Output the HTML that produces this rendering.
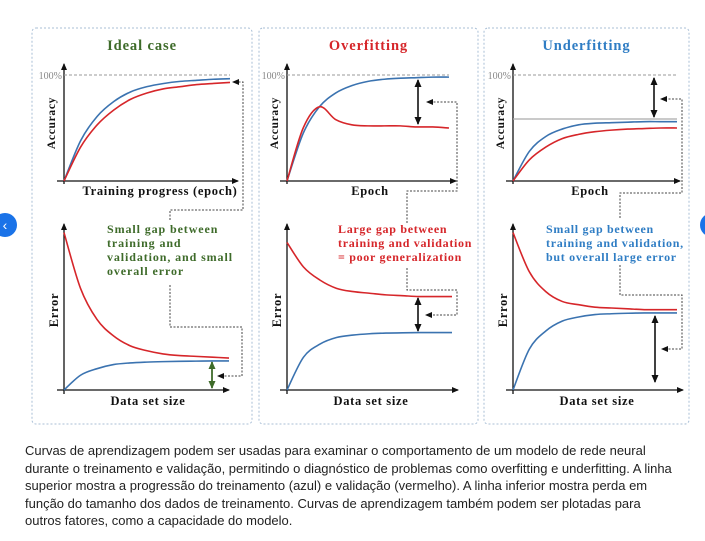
<!DOCTYPE html>
<html><head><meta charset="utf-8"><style>
body{margin:0;background:#fff;width:705px;height:541px;overflow:hidden;position:relative;font-family:"Liberation Sans",sans-serif}
#cap{position:absolute;left:25px;top:442px;width:650px;font-size:13px;line-height:17.6px;color:#222}
.nav{position:absolute;width:24px;height:24px;border-radius:12px;background:#1a73e8;color:#fff;font-size:14px;line-height:24px;text-align:center;top:213px}
</style></head><body>
<svg id="fig" width="705" height="435" style="position:absolute;left:0;top:0" font-family="Liberation Serif, serif">
<defs>
<marker id="ah" markerUnits="userSpaceOnUse" markerWidth="7" markerHeight="7" refX="6" refY="3.5" orient="auto"><path d="M0,0.5L7,3.5L0,6.5z" fill="#111"/></marker>
<marker id="ahs" markerUnits="userSpaceOnUse" markerWidth="8" markerHeight="8" refX="7" refY="4" orient="auto-start-reverse"><path d="M0,0.5L8,4L0,7.5z" fill="#111"/></marker>
<marker id="ahg" markerUnits="userSpaceOnUse" markerWidth="8" markerHeight="8" refX="7" refY="4" orient="auto-start-reverse"><path d="M0,0.5L8,4L0,7.5z" fill="#3e6b2a"/></marker>
</defs>
<g id="static"></g>
<g id="curves"></g>
</svg>
<div class="nav" style="left:-7px">‹</div>
<div class="nav" style="left:700px">›</div>
<div id="cap">Curvas de aprendizagem podem ser usadas para examinar o comportamento de um modelo de rede neural durante o treinamento e validação, permitindo o diagnóstico de problemas como overfitting e underfitting. A linha superior mostra a progressão do treinamento (azul) e validação (vermelho). A linha inferior mostra perda em função do tamanho dos dados de treinamento. Curvas de aprendizagem também podem ser plotadas para outros fatores, como a capacidade do modelo.</div>
<script>
// x positions are fractions of the plot width (0..1)
const xs = [0,0.1,0.2,0.3,0.4,0.5,0.6,0.7,0.8,0.9,1];
// accuracy (fraction of 100%)
const idealTrainAcc = [0,0.38,0.61,0.75,0.84,0.89,0.92,0.94,0.95,0.96,0.965];
const idealValAcc   = [0,0.32,0.53,0.67,0.77,0.83,0.87,0.89,0.91,0.92,0.93];
const overTrainAcc  = [0,0.45,0.70,0.83,0.90,0.94,0.96,0.97,0.975,0.98,0.98];
const overValAcc    = [0,0.50,0.70,0.58,0.53,0.52,0.52,0.52,0.51,0.51,0.50];
const underTrainAcc = [0,0.28,0.42,0.49,0.53,0.545,0.55,0.555,0.56,0.56,0.56];
const underValAcc   = [0,0.20,0.32,0.40,0.44,0.465,0.48,0.49,0.495,0.50,0.50];
// error vs data set size (fraction of axis height)
const idealValErr   = [0.96,0.62,0.43,0.33,0.27,0.24,0.22,0.21,0.205,0.20,0.195];
const idealTrainErr = [0,0.09,0.13,0.155,0.165,0.17,0.173,0.175,0.176,0.177,0.177];
const overValErr    = [0.90,0.75,0.67,0.62,0.60,0.59,0.58,0.575,0.57,0.57,0.57];
const overTrainErr  = [0,0.20,0.28,0.32,0.335,0.343,0.347,0.349,0.35,0.35,0.35];
const underValErr   = [0.96,0.72,0.60,0.54,0.52,0.505,0.50,0.495,0.49,0.49,0.49];
const underTrainErr = [0,0.25,0.36,0.42,0.445,0.46,0.465,0.468,0.47,0.47,0.47];

const NS='http://www.w3.org/2000/svg';
const st=document.getElementById('static'), cv=document.getElementById('curves');
function mk(tag,attrs,parent,text){const e=document.createElementNS(NS,tag);for(const k in attrs)e.setAttribute(k,attrs[k]);if(text!==undefined)e.textContent=text;(parent||st).appendChild(e);return e;}
function line(x1,y1,x2,y2,extra,name){const e=mk('line',Object.assign({x1,y1,x2,y2,stroke:'#111','stroke-width':1.3},extra||{}));

return e;}
function dpath(d,name){const e=mk('path',{d,fill:'none',stroke:'#444','stroke-width':1,'stroke-dasharray':'2,1.5','marker-end':'url(#ah)'});

}
function text(x,y,s,attrs,name){const e=mk('text',Object.assign({x,y,'font-size':12.5,'font-weight':'bold',fill:'#111','letter-spacing':0.7},attrs||{}),st,s);

return e;}
function curve(vals,x0,x1,y0,h,color,name){
  const pts=xs.map((f,i)=>[x0+f*(x1-x0),y0-vals[i]*h]);
  let d='M'+pts[0][0]+','+pts[0][1];
  for(let i=0;i<pts.length-1;i++){const p0=pts[Math.max(0,i-1)],p1=pts[i],p2=pts[i+1],p3=pts[Math.min(pts.length-1,i+2)];
    d+=' C'+(p1[0]+(p2[0]-p0[0])/6)+','+(p1[1]+(p2[1]-p0[1])/6)+' '+(p2[0]-(p3[0]-p1[0])/6)+','+(p2[1]-(p3[1]-p1[1])/6)+' '+p2[0]+','+p2[1];}
  const e=mk('path',{d,fill:'none',stroke:color,'stroke-width':1.6},cv);
  
  
}
const BLUE='#3b73b0', RED='#d6262a';
const panels=[
 {key:'ideal',bx:32,bw:220,title:'Ideal case',tc:'#3e6b2a',ax:64,xe:238,ce:230,top:[idealTrainAcc,idealValAcc],bot:[idealValErr,idealTrainErr],bxe:229,bce:229,xl:'Training progress (epoch)',xlx:160},
 {key:'overfitting',bx:259,bw:219,title:'Overfitting',tc:'#d6262a',ax:287,xe:456,ce:449,top:[overTrainAcc,overValAcc],bot:[overValErr,overTrainErr],bxe:458,bce:452,xl:'Epoch',xlx:370},
 {key:'underfitting',bx:484,bw:205,title:'Underfitting',tc:'#2f7dc4',ax:513,xe:680,ce:677,top:[underTrainAcc,underValAcc],bot:[underValErr,underTrainErr],bxe:683,bce:677,xl:'Epoch',xlx:590}
];
panels.forEach(p=>{
  const b=mk('rect',{x:p.bx,y:28,width:p.bw,height:396,rx:4,fill:'none',stroke:'#a9bfd6','stroke-width':1,'stroke-dasharray':'2,2'});
  
  
  text(p.bx+p.bw/2,50,p.title,{'text-anchor':'middle','font-size':14.5,fill:p.tc,'letter-spacing':0.9},p.key+'-title');
  // top chart
  line(p.ax,184,p.ax,64,{'marker-end':'url(#ah)'},p.key+'-acc-y-axis');
  line(p.ax-7,181,p.xe,181,{'marker-end':'url(#ah)'},p.key+'-acc-x-axis');
  line(p.ax,75,p.ce,75,{stroke:'#999','stroke-width':1,'stroke-dasharray':'3,2'},p.key+'-100-line');
  text(p.ax-2,79,'100%',{'text-anchor':'end','font-size':10,'font-weight':'normal',fill:'#888','letter-spacing':0},p.key+'-100-label');
  text(p.ax-9,123,'Accuracy',{'text-anchor':'middle','font-size':11.5,transform:'rotate(-90 '+(p.ax-9)+' 123)'},p.key+'-acc-y-title');
  text(p.xlx,195,p.xl,{'text-anchor':'middle'},p.key+'-acc-x-title');
  if(p.key==='underfitting') line(p.ax,119,p.ce,119,{stroke:'#aaa','stroke-width':1.2},'underfitting-ceiling-line');
  curve(p.top[0],p.ax,p.ce,181,106,BLUE,p.key+'-train-accuracy');
  curve(p.top[1],p.ax,p.ce,181,106,RED,p.key+'-val-accuracy');
  // bottom chart
  line(p.ax,394,p.ax,224,{'marker-end':'url(#ah)'},p.key+'-err-y-axis');
  line(p.ax-7,390,p.bxe,390,{'marker-end':'url(#ah)'},p.key+'-err-x-axis');
  text(p.ax-6,310,'Error',{'text-anchor':'middle','font-size':12.5,transform:'rotate(-90 '+(p.ax-6)+' 310)'},p.key+'-err-y-title');
  text(p.ax+84,405,'Data set size',{'text-anchor':'middle'},p.key+'-err-x-title');
  curve(p.bot[0],p.ax,p.bce,390,164,RED,p.key+'-val-error');
  curve(p.bot[1],p.ax,p.bce,390,164,BLUE,p.key+'-train-error');
});
// gaps
line(212,362,212,388,{stroke:'#3e6b2a','stroke-width':1.8,'marker-start':'url(#ahg)','marker-end':'url(#ahg)'},'ideal-gap-arrow');
line(418,80,418,124,{'stroke-width':1.6,'marker-start':'url(#ahs)','marker-end':'url(#ahs)'},'overfitting-acc-gap-arrow');
line(418,298,418,331,{'stroke-width':1.6,'marker-start':'url(#ahs)','marker-end':'url(#ahs)'},'overfitting-err-gap-arrow');
line(654,78,654,117,{'stroke-width':1.6,'marker-start':'url(#ahs)','marker-end':'url(#ahs)'},'underfitting-acc-gap-arrow');
line(655,316,655,382,{'stroke-width':1.6,'marker-start':'url(#ahs)','marker-end':'url(#ahs)'},'underfitting-err-gap-arrow');
// connectors
dpath('M170,220 L170,210 L243,210 L243,82 L233,82','ideal-top-connector');
dpath('M170,285 L170,327 L242,327 L242,376 L218,376','ideal-bottom-connector');
dpath('M407,223 L407,191 L457,191 L457,102 L427,102','overfitting-top-connector');
dpath('M407,268 L407,290 L457,290 L457,315 L426,315','overfitting-bottom-connector');
dpath('M620,218 L620,193 L682,193 L682,99 L661,99','underfitting-top-connector');
dpath('M620,265 L620,295 L682,295 L682,349 L662,349','underfitting-bottom-connector');
// annotations
[['Small gap between',107,233],['training and',107,247],['validation, and small',107,261],['overall error',107,275]].forEach((t,i)=>text(t[1],t[2],t[0],{fill:'#3e6b2a','font-size':12,'letter-spacing':0.9},'ideal-annotation-line-'+(i+1)));
[['Large gap between',338,233],['training and validation',338,247],['= poor generalization',338,261]].forEach((t,i)=>text(t[1],t[2],t[0],{fill:'#d6262a','font-size':12,'letter-spacing':0.7},'overfitting-annotation-line-'+(i+1)));
[['Small gap between',546,233],['training and validation,',546,247],['but overall large error',546,261]].forEach((t,i)=>text(t[1],t[2],t[0],{fill:'#2f7dc4','font-size':12,'letter-spacing':0.7},'underfitting-annotation-line-'+(i+1)));
</script>
</body></html>
